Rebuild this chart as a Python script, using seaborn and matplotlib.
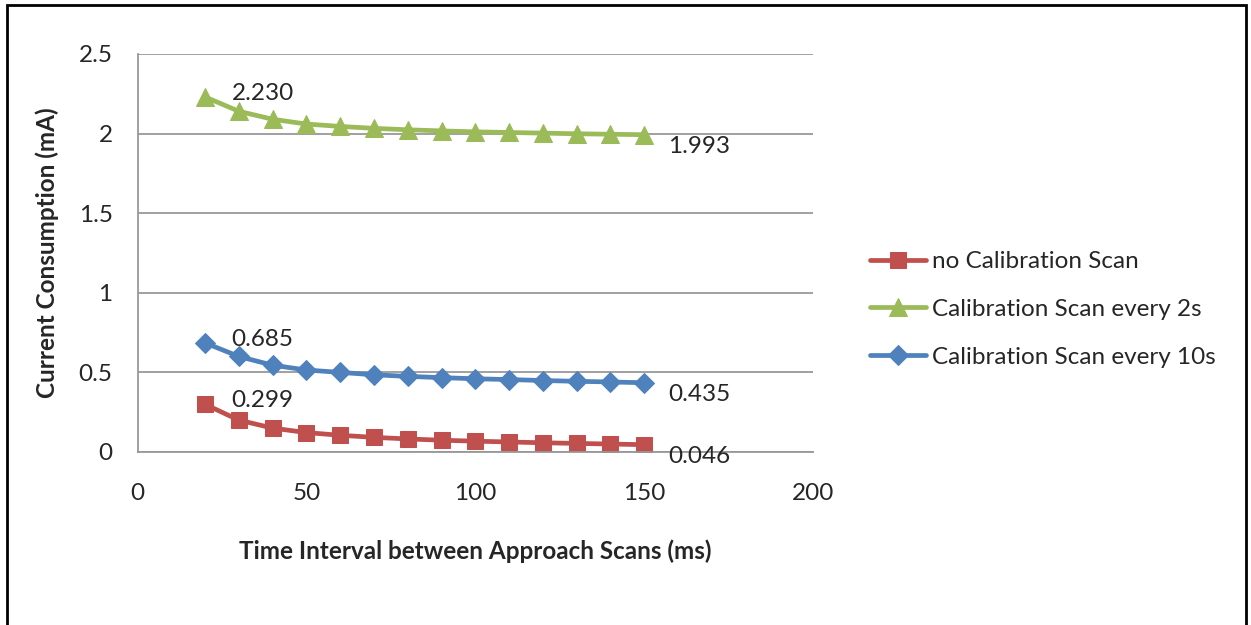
import numpy as np
import pandas as pd
import matplotlib
matplotlib.use("Agg")
import matplotlib.pyplot as plt
from matplotlib.patches import Rectangle
from matplotlib.ticker import FuncFormatter
import seaborn as sns

# Data
interval_ms = [20, 30, 40, 50, 60, 70, 80, 90, 100, 110, 120, 130, 140, 150]
no_calib = [0.299, 0.200, 0.150, 0.122, 0.105, 0.092, 0.082, 0.074, 0.068, 0.063, 0.058, 0.054, 0.050, 0.046]
calib_2s = [2.230, 2.140, 2.090, 2.060, 2.045, 2.033, 2.024, 2.017, 2.011, 2.007, 2.003, 1.999, 1.996, 1.993]
calib_10s = [0.685, 0.600, 0.545, 0.515, 0.500, 0.485, 0.475, 0.467, 0.460, 0.455, 0.449, 0.444, 0.440, 0.435]

series_names = ["no Calibration Scan", "Calibration Scan every 2s", "Calibration Scan every 10s"]
series_values = [no_calib, calib_2s, calib_10s]
colors = ["#C0504D", "#9BBB59", "#4F81BD"]
markers = ["s", "^", "D"]
marker_sizes = [12, 13, 10.5]

rows = []
for name, vals in zip(series_names, series_values):
    for x, v in zip(interval_ms, vals):
        rows.append({"Interval": x, "Current": v, "Series": name})
df = pd.DataFrame(rows)

sns.set_style("white")
plt.rcParams['font.family'] = ['Lato', 'DejaVu Sans']
fs = 17.5

fig = plt.figure(figsize=(12.51, 6.25), dpi=100)
ax = fig.add_axes([0.110, 0.2768, 0.540, 0.6368])

for name, col, mk, ms in zip(series_names, colors, markers, marker_sizes):
    sub = df[df["Series"] == name]
    sns.lineplot(data=sub, x="Interval", y="Current", ax=ax, color=col,
                 marker=mk, markersize=ms, markeredgecolor=col, linewidth=3.4,
                 label=name, legend=False)

# data labels on first and last points
for vals in series_values:
    ax.annotate(f"{vals[0]:.3f}", (interval_ms[0], vals[0]), xytext=(19, 2.5),
                textcoords="offset points", fontsize=fs, va="center", ha="left")
    ax.annotate(f"{vals[-1]:.3f}", (interval_ms[-1], vals[-1]), xytext=(17, -8.5),
                textcoords="offset points", fontsize=fs, va="center", ha="left")

ax.set_xlim(0, 200)
ax.set_ylim(0, 2.5)
ax.set_xticks([0, 50, 100, 150, 200])
ax.set_yticks([0, 0.5, 1, 1.5, 2, 2.5])
ax.yaxis.set_major_formatter(FuncFormatter(lambda v, p: f"{v:g}"))
ax.grid(axis="y", color="#989898", linewidth=1.3)
ax.set_axisbelow(True)
for s in ["top", "right"]:
    ax.spines[s].set_visible(False)
for s in ["left", "bottom"]:
    ax.spines[s].set_color("#989898")
    ax.spines[s].set_linewidth(1.3)
ax.tick_params(axis="both", direction="out", length=6, width=1.3, color="#989898",
               labelsize=fs, pad=12)
ax.tick_params(axis="x", pad=16)

ax.set_xlabel("Time Interval between Approach Scans (ms)", fontsize=fs, fontweight="bold", labelpad=26)
ax.set_ylabel("Current Consumption (mA)", fontsize=fs, fontweight="bold", labelpad=14)

handles, labels = ax.get_legend_handles_labels()
fig.legend(handles, labels, loc="center left", bbox_to_anchor=(0.678, 0.505),
           frameon=False, fontsize=fs, handlelength=2.3, handletextpad=0.25,
           labelspacing=1.1)

# border around the whole chart
fig.add_artist(Rectangle((0.0056, -0.02), 0.9904, 1.0122, transform=fig.transFigure,
                         fill=False, edgecolor="black", linewidth=2))

fig.savefig("out.png", dpi=100)
